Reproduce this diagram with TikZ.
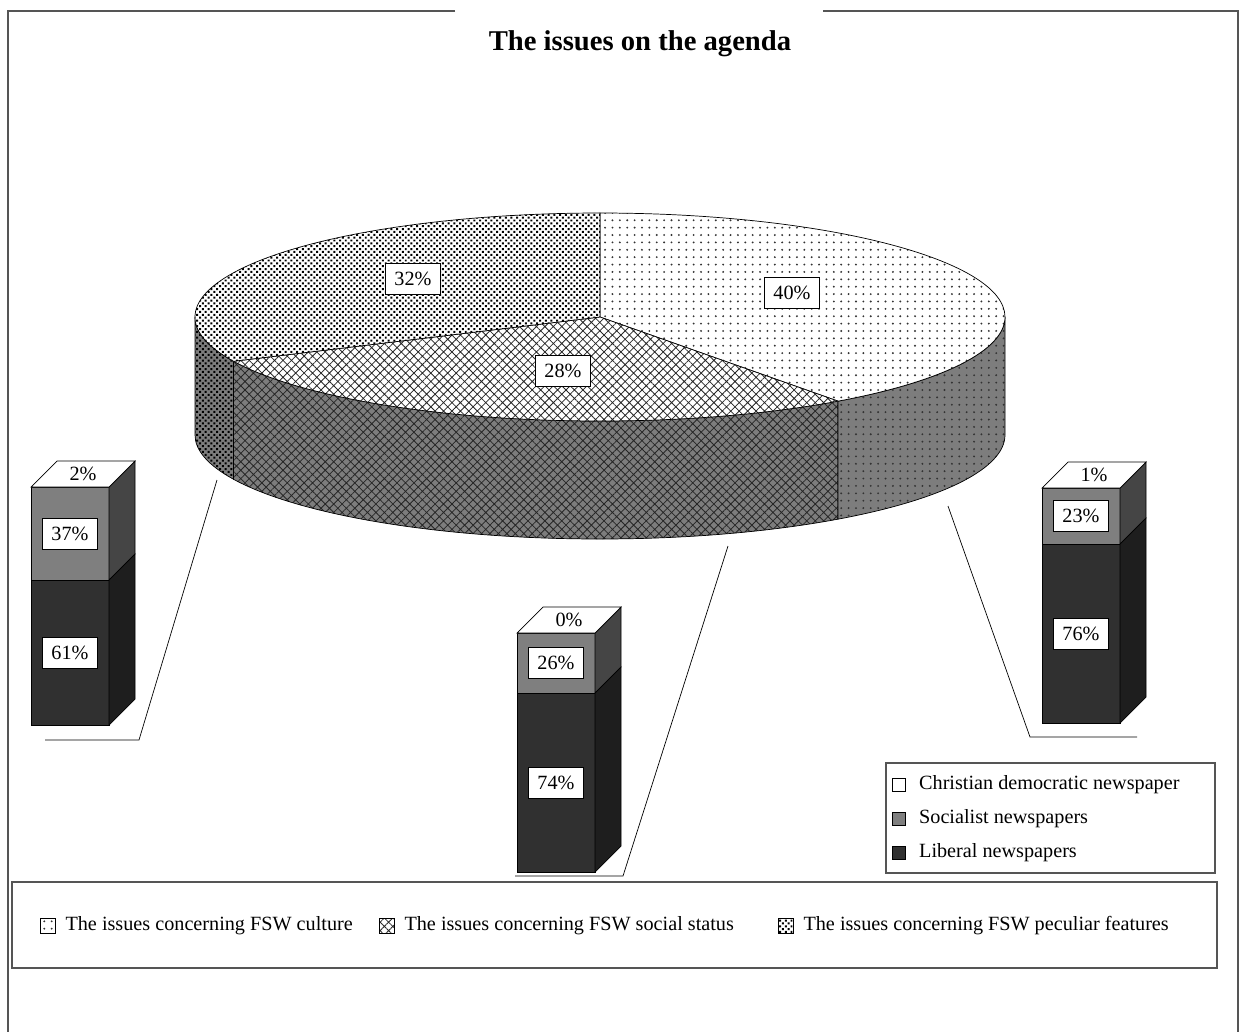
\documentclass[tikz,border=0pt]{standalone}
\usepackage{fontspec}
\setmainfont{Liberation Serif}
\usetikzlibrary{patterns.meta,positioning}
\definecolor{sidegray}{HTML}{7D7D7D}
\definecolor{soc}{HTML}{7F7F7F}
\definecolor{socside}{HTML}{454545}
\definecolor{lib}{HTML}{303030}
\definecolor{libside}{HTML}{1E1E1E}
\definecolor{framegray}{HTML}{555555}

\begin{document}
\begin{tikzpicture}[x=0.02cm, y=0.02cm, font=\fontsize{11.5}{14}\selectfont,
  rim/.style={x radius=405, y radius=104},
  pct/.style={draw, fill=white, inner xsep=5pt, inner ysep=5pt},
  culture/.style={pattern={Dots[distance=4.2pt, radius=0.6pt]}, pattern color=black!80},
  social/.style={pattern={Hatch[distance=3.4pt, angle=45, line width=0.45pt]}, pattern color=black!85},
  features/.style={pattern={Dots[distance=2.3pt, radius=0.8pt, angle=45]}, pattern color=black},
  wall/.style={preaction={fill=sidegray}, draw},
  face/.style={preaction={fill=white}, draw},
  key/.style={draw, minimum size=7.5pt, inner sep=0pt},
  keyb/.style={draw, minimum size=8.5pt, inner sep=0pt},
  box/.style={draw=framegray, line width=0.8pt}]
  \useasboundingbox (0,0) rectangle (1242,-1032);

  \draw[framegray, line width=1pt] (455,-11) -| (8,-1032);
  \draw[framegray, line width=1pt] (823,-11) -| (1238,-1032);
  \node[font=\bfseries\fontsize{16.3}{19}\selectfont] (title) at (640,-44) {The issues on the agenda};

  \begin{scope}[shift={(600,-317)}]
    \path[wall, features] (180:405 and 104) arc[start angle=180, end angle=205.2, rim] -- ++(0,-118) arc[start angle=205.2, end angle=180, rim] -- cycle;
    \path[wall, social] (205.2:405 and 104) arc[start angle=205.2, end angle=306, rim] -- ++(0,-118) arc[start angle=306, end angle=205.2, rim] -- cycle;
    \path[wall, culture] (306:405 and 104) arc[start angle=306, end angle=360, rim] -- ++(0,-118) arc[start angle=360, end angle=306, rim] -- cycle;
    \path[face, culture] (0,0) -- (90:405 and 104) arc[start angle=90, end angle=-54, rim] -- cycle;
    \path[face, social] (0,0) -- (-54:405 and 104) arc[start angle=-54, end angle=-154.8, rim] -- cycle;
    \path[face, features] (0,0) -- (205.2:405 and 104) arc[start angle=205.2, end angle=90, rim] -- cycle;
  \end{scope}
  \node[pct] (p32) at (413,-279) {32\%};
  \node[pct] (p28) at (563,-371) {28\%};
  \node[pct] (p40) at (792,-293) {40\%};

  \foreach \n/\bx/\tp/\md/\bt/\cd/\so/\li in {l/31/487/580/725/2/37/61, m/517/633/693/872/0/26/74, r/1042/488/544/723/1/23/76}{
    \draw[fill=soc] (\bx,-\tp) rectangle ({\bx+78},-\md);
    \draw[fill=lib] (\bx,-\md) rectangle ({\bx+78},-\bt);
    \draw[fill=socside] ({\bx+78},-\tp) -- ++(26,26) -- ({\bx+104},{26-\md}) -- ({\bx+78},-\md) -- cycle;
    \draw[fill=libside] ({\bx+78},-\md) -- ++(26,26) -- ({\bx+104},{26-\bt}) -- ({\bx+78},-\bt) -- cycle;
    \draw[fill=white] (\bx,-\tp) -- ++(26,26) -- ++(78,0) -- ({\bx+78},-\tp) -- cycle;
    \node (cd\n) at ({\bx+52},{13-\tp}) {\cd\%};
    \node[pct] (so\n) at ({\bx+39},{-(\tp+\md)/2}) {\so\%};
    \node[pct] (li\n) at ({\bx+39},{-(\md+\bt)/2}) {\li\%};
  }

  \coordinate (pl) at (217,-480);
  \coordinate (fl) at (139,-740);
  \coordinate (el) at (45,-740);
  \coordinate (pm) at (728,-546);
  \coordinate (fm) at (623,-876);
  \coordinate (em) at (515,-876);
  \coordinate (pr) at (948,-506);
  \coordinate (fr) at (1030,-737);
  \coordinate (er) at (1137,-737);
  \draw (pl) -- (fl) -- (el);
  \draw (pm) -- (fm) -- (em);
  \draw (pr) -- (fr) -- (er);

  \draw[box] (886,-763) rectangle (1215,-873);
  \node[key, fill=white] (kcd) at (899,-785) {};
  \node[right=4pt of kcd] (tcd) {Christian democratic newspaper};
  \node[key, fill=soc] (kso) at (899,-819) {};
  \node[right=4pt of kso] (tso) {Socialist newspapers};
  \node[key, fill=lib] (kli) at (899,-853) {};
  \node[right=4pt of kli] (tli) {Liberal newspapers};

  \draw[box] (12,-882) rectangle (1217,-968);
  \node[keyb, culture] (kcu) at (48,-926) {};
  \node[right=2pt of kcu] (tcu) {The issues concerning FSW culture};
  \node[keyb, social] (kst) at (387,-926) {};
  \node[right=2pt of kst] (tst) {The issues concerning FSW social status};
  \node[keyb, features] (kfe) at (786,-926) {};
  \node[right=2pt of kfe] (tfe) {The issues concerning FSW peculiar features};
\end{tikzpicture}
\end{document}
